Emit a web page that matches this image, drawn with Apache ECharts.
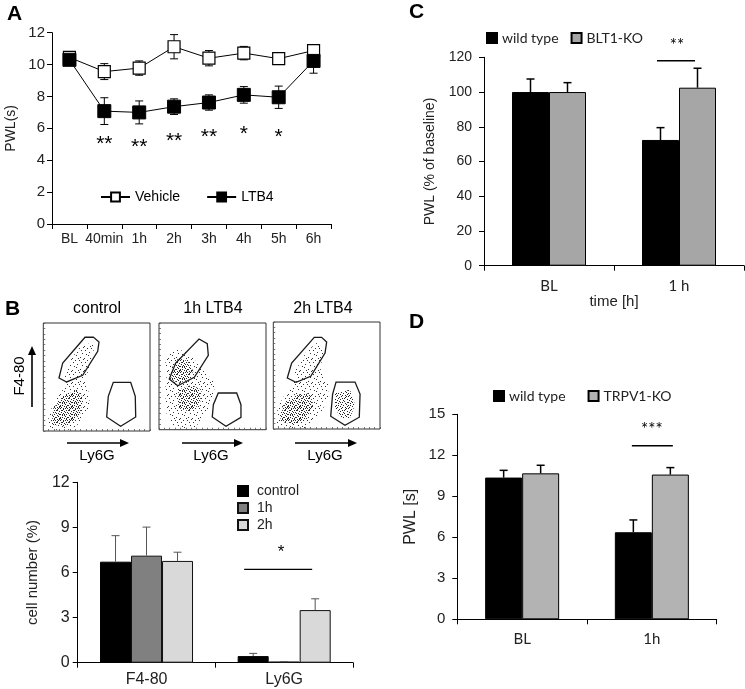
<!DOCTYPE html>
<html><head><meta charset="utf-8">
<script src="https://cdn.jsdelivr.net/npm/echarts@6/dist/echarts.min.js"></script>
<style>html,body{margin:0;padding:0;background:#fff}#c{width:745px;height:689px}</style>
</head><body><div id="c"></div>
<script>
// ---------- Panel A ----------
const timeA = ['BL','40min','1h','2h','3h','4h','5h','6h'];
const vehicle = [10.45, 9.56, 9.78, 11.12, 10.40, 10.72, 10.37, 10.88];
const vehicleErr = [0.20, 0.50, 0.45, 0.76, 0.48, 0.42, 0.33, 0.20];
const ltb4 = [10.30, 7.08, 7.00, 7.36, 7.62, 8.10, 7.95, 10.23];
const ltb4Err = [0.30, 0.84, 0.72, 0.49, 0.48, 0.52, 0.70, 0.77];
const starsA = ['', '**', '**', '**', '**', '*', '*', ''];
const starsAY = [null, 5.0, 4.83, 5.2, 5.45, 5.64, 5.45, null];

// ---------- Panel C ----------
const catC = ['BL', '1 h'];
const wtC = [100, 72.4];
const wtCErr = [7.5, 7.1];
const koC = [100, 102.5];
const koCErr = [5.4, 11.2];

// ---------- Panel B (flow plots, gate outlines and density regions, plot units 0-100) ----------
const flowTitles = ['control', '1h LTB4', '2h LTB4'];
const gateUpper = [
  [[39.1,86.8],[46.9,87.0],[52.2,82.4],[51.0,73.8],[36.9,51.6],[21.9,45.4],[14.7,49.1],[18.2,63.0]],
  [[37.4,85.0],[45.1,80.6],[46.1,69.7],[33.0,49.1],[17.5,41.2],[9.6,47.5],[15.6,62.5]],
  [[38.4,85.7],[45.3,85.7],[50.0,81.3],[48.5,71.0],[35.1,49.3],[21.3,43.6],[13.1,47.7],[17.2,61.7]]
];
const gateLower = [
  [[65.6,45.1],[81.9,45.1],[86.2,32.1],[86.6,13.0],[72.5,4.4],[59.4,13.0],[60.9,32.1]],
  [[55.4,34.4],[72.6,34.4],[76.6,23.4],[76.6,11.5],[62.6,3.2],[49.8,11.9],[50.8,23.4]],
  [[58.8,43.9],[76.6,43.9],[81.3,32.7],[80.6,11.0],[67.2,3.5],[53.8,11.9],[55.6,32.7]]
];
const cloudSparse = [
  [[4.7,1.2],[4.7,15.1],[12.5,30.6],[21.9,42.9],[20.3,50.6],[26.6,67.6],[37.5,81.5],[48.5,79.9],[43.8,61.4],[39.1,46.0],[42.2,36.7],[43.8,24.4],[37.5,12.0],[28.1,1.2]],
  [[5.6,67.2],[15.0,75.0],[27.4,73.5],[36.7,60.9],[52.3,43.8],[50.8,29.7],[43.0,14.1],[33.6,1.6],[15.0,1.6],[7.2,14.1],[5.6,36.0],[7.2,51.5]],
  [[3.2,2.5],[3.8,19.6],[12.5,35.2],[18.8,43.0],[20.3,53.9],[31.3,72.6],[40.6,80.4],[48.5,74.1],[43.8,57.0],[51.5,41.4],[51.5,29.0],[43.8,13.4],[31.3,0.9],[12.5,0.5]]
];
const cloudDense = [
  [[[7.8,5.9],[9.4,21.3],[18.7,32.1],[31.3,38.3],[37.5,30.6],[34.4,15.1],[21.9,4.3]]],
  [[[11.8,57.8],[18.0,67.2],[27.4,64.1],[32.1,54.7],[27.4,46.9],[18.0,43.8],[11.8,46.9]],
   [[18.0,37.5],[30.5,41.8],[39.9,37.5],[38.3,23.4],[27.4,17.2],[18.0,20.3]]],
  [[[6.3,7.2],[9.4,22.7],[21.9,32.1],[34.4,33.6],[37.5,22.7],[31.3,10.3],[18.8,4.0]],
   [[57.8,33.6],[71.9,36.7],[76.6,22.7],[71.9,10.3],[62.5,10.3],[57.8,21.2]]]
];

// ---------- Panel B (bar chart) ----------
const catB = ['F4-80', 'Ly6G'];
const ctrlB = [6.72, 0.44];
const ctrlBErr = [1.73, 0.18];
const h1B = [7.12, 0.07];
const h1BErr = [1.90, 0.0];
const h2B = [6.77, 3.50];
const h2BErr = [0.58, 0.75];

// ---------- Panel D ----------
const catD = ['BL', '1h'];
const wtD = [10.37, 6.37];
const wtDErr = [0.53, 0.90];
const koD = [10.68, 10.59];
const koDErr = [0.59, 0.51];

// significance marks: [category, line value, text value, text]
const sigB = [1, 6.21, 7.32, '*'];
const sigC = [1, 118, 126.8, '**'];
const sigD = [1, 12.7, 13.87, '***'];

const FONT = "'Liberation Sans', Arial, sans-serif";
const CAL = "Lato, 'Liberation Sans', sans-serif";
const TXT = '#222';

// speckle textures for the flow-cytometry density regions
const sparseDots = [[1,2],[7,0],[10,5],[4,7],[0,10],[8,9],[5,4],[11,11],[2,6],[9,2],[6,10],[3,0]];
const denseDots = [[0,0],[3,1],[6,2],[9,1],[1,4],[4,3],[8,5],[11,3],[2,7],[6,6],[10,8],[0,9],[4,10],[7,9],[9,11],
  [1,11],[5,8],[11,6],[7,4],[2,2],[10,0],[5,0],[3,5],[9,7],[0,6],[6,11],[8,2],[11,10],[2,9],[4,6]];
function tile(pts, color) {
  const c = document.createElement('canvas'); c.width = 12; c.height = 12;
  const ctx = c.getContext('2d'); ctx.fillStyle = color;
  pts.forEach(p => ctx.fillRect(p[0], p[1], 1, 1));
  return c;
}
const sparseTile = tile(sparseDots, 'rgba(15,15,15,0.85)');
const denseTile = tile(denseDots, 'rgba(15,15,15,0.9)');

const chart = echarts.init(document.getElementById('c'), null, {renderer: 'canvas'});

function errSym(xi, vals, errs, z) {
  return {
    type: 'custom', xAxisIndex: xi, yAxisIndex: xi, z: z, silent: true,
    data: vals.map((v, i) => [i, v, errs[i]]), encode: {x: 0, y: 1},
    renderItem: (p, api) => {
      const i = api.value(0), v = api.value(1), e = api.value(2);
      const hi = api.coord([i, v + e]), lo = api.coord([i, v - e]);
      const x = hi[0], c = 4, st = {stroke: '#000', lineWidth: 1};
      return {type: 'group', children: [
        {type: 'line', shape: {x1: x, y1: hi[1], x2: x, y2: lo[1]}, style: st},
        {type: 'line', shape: {x1: x - c, y1: hi[1], x2: x + c, y2: hi[1]}, style: st},
        {type: 'line', shape: {x1: x - c, y1: lo[1], x2: x + c, y2: lo[1]}, style: st}
      ]};
    }
  };
}
function errUp(xi, vals, errs, offset, color, lw, cap) {
  return {
    type: 'custom', xAxisIndex: xi, yAxisIndex: xi, z: 5, silent: true,
    data: vals.map((v, i) => [i, v, errs[i]]), encode: {x: 0, y: 1},
    renderItem: (p, api) => {
      const i = api.value(0), v = api.value(1), e = api.value(2);
      const b = api.coord([i, v]), t = api.coord([i, v + e]);
      const x = b[0] + offset, st = {stroke: color, lineWidth: lw};
      return {type: 'group', children: [
        {type: 'line', shape: {x1: x, y1: b[1], x2: x, y2: t[1]}, style: st},
        {type: 'line', shape: {x1: x - cap, y1: t[1], x2: x + cap, y2: t[1]}, style: st}
      ]};
    }
  };
}
function sigSeries(xi, sig, dxL, dxR, dxT, fs, ff) {
  return {
    type: 'custom', xAxisIndex: xi, yAxisIndex: xi, z: 6, silent: true,
    data: [[sig[0], sig[1], sig[2]]], encode: {x: 0, y: 1},
    renderItem: (p, api) => {
      const a = api.coord([api.value(0), api.value(1)]);
      const t = api.coord([api.value(0), api.value(2)]);
      return {type: 'group', children: [
        {type: 'line', shape: {x1: a[0] + dxL, y1: a[1], x2: a[0] + dxR, y2: a[1]}, style: {stroke: '#000', lineWidth: 1.3}},
        {type: 'text', x: t[0] + dxT, y: t[1], style: {text: sig[3], align: 'center', verticalAlign: 'middle', font: fs + 'px ' + ff, fill: '#000'}}
      ]};
    }
  };
}
function flowSeries(k) {
  const polys = [];
  polys.push({pts: cloudSparse[k], fill: {image: sparseTile, repeat: 'repeat'}, stroke: null});
  cloudDense[k].forEach(p => polys.push({pts: p, fill: {image: denseTile, repeat: 'repeat'}, stroke: null}));
  polys.push({pts: gateUpper[k], fill: null, stroke: '#1a1a1a'});
  polys.push({pts: gateLower[k], fill: null, stroke: '#1a1a1a'});
  return {
    type: 'custom', xAxisIndex: 2 + k, yAxisIndex: 2 + k, silent: true,
    data: polys.map((_, i) => [i, 0]), encode: {x: 0, y: 1},
    renderItem: (p, api) => {
      const d = polys[api.value(0)];
      return {type: 'polygon', shape: {points: d.pts.map(pt => api.coord(pt))},
        style: {fill: d.fill || 'none', stroke: d.stroke || 'none', lineWidth: 1.3}};
    }
  };
}

const flowAxis = (gi) => ({
  gridIndex: gi, type: 'value', min: 0, max: 100, interval: 5,
  axisLine: {show: false}, axisLabel: {show: false}, splitLine: {show: false},
  axisTick: {show: true, inside: true, length: 2, lineStyle: {color: '#555', width: 0.8}}
});
const catAxis = (gi, data, font, fs, margin) => ({
  gridIndex: gi, type: 'category', data: data, boundaryGap: true,
  axisLine: {show: true, lineStyle: {color: '#000', width: 1}},
  axisTick: {show: true, length: 5, alignWithLabel: false, lineStyle: {color: '#000'}},
  axisLabel: {fontFamily: font, fontSize: fs, color: TXT, margin: margin, interval: 0},
  splitLine: {show: false}
});
const valAxis = (gi, max, interval, fs, margin, name, nameFs, nameGap) => ({
  gridIndex: gi, type: 'value', min: 0, max: max, interval: interval,
  axisLine: {show: true, lineStyle: {color: '#000', width: 1}},
  axisTick: {show: true, length: 5, lineStyle: {color: '#000'}},
  axisLabel: {fontFamily: FONT, fontSize: fs, color: TXT, margin: margin},
  splitLine: {show: false},
  name: name, nameLocation: 'middle', nameGap: nameGap, nameRotate: 90,
  nameTextStyle: {fontFamily: FONT, fontSize: nameFs, color: TXT}
});

const option = {
  animation: false,
  backgroundColor: '#fff',
  grid: [
    {left: 52, top: 32.7, width: 279, height: 191.3, outerBoundsMode: 'none'},
    {left: 484, top: 57.3, width: 260, height: 208.4, outerBoundsMode: 'none'},
    {left: 43.3, top: 323, width: 106.7, height: 108, show: true, borderColor: '#333', borderWidth: 1, backgroundColor: 'transparent', outerBoundsMode: 'none'},
    {left: 159, top: 323, width: 107, height: 106.7, show: true, borderColor: '#333', borderWidth: 1, backgroundColor: 'transparent', outerBoundsMode: 'none'},
    {left: 273.3, top: 322, width: 106.7, height: 107, show: true, borderColor: '#333', borderWidth: 1, backgroundColor: 'transparent', outerBoundsMode: 'none'},
    {left: 77.7, top: 482.3, width: 275.3, height: 180.4, outerBoundsMode: 'none'},
    {left: 457.3, top: 414.3, width: 259.4, height: 205, outerBoundsMode: 'none'}
  ],
  xAxis: [
    catAxis(0, timeA, FONT, 14, 8),
    Object.assign(catAxis(1, catC, CAL, 15, 13), {name: 'time [h]', nameLocation: 'middle', nameGap: 28,
      nameTextStyle: {fontFamily: FONT, fontSize: 15, color: TXT}}),
    flowAxis(2), flowAxis(3), flowAxis(4),
    catAxis(5, catB, FONT, 16, 9),
    catAxis(6, catD, CAL, 15, 12)
  ],
  yAxis: [
    valAxis(0, 12, 2, 15, 7, 'PWL(s)', 14, 34),
    valAxis(1, 120, 20, 14, 12, 'PWL (% of baseline)', 14, 47),
    flowAxis(2), flowAxis(3), flowAxis(4),
    valAxis(5, 12, 3, 16, 8, 'cell number (%)', 15, 37),
    valAxis(6, 15, 3, 15, 12, 'PWL [s]', 16, 39)
  ],
  legend: [
    {data: ['Vehicle', 'LTB4'], left: 100, top: 190, padding: 0, itemWidth: 29, itemHeight: 11, itemGap: 26,
      selectedMode: false, textStyle: {fontFamily: FONT, fontSize: 14, color: '#000'}},
    {data: ['wild type#C', 'BLT1-KO#C'], left: 486, top: 31, padding: 0, icon: 'rect', itemWidth: 10, itemHeight: 10, itemGap: 12,
      selectedMode: false, formatter: n => n.split('#')[0], textStyle: {fontFamily: CAL, fontSize: 14, color: TXT}},
    {data: ['control', '1h', '2h'], orient: 'vertical', left: 237, top: 484, padding: 0, icon: 'rect', itemWidth: 10, itemHeight: 10, itemGap: 3,
      selectedMode: false, textStyle: {fontFamily: FONT, fontSize: 14, color: TXT, padding: [0, 0, 0, 4]}},
    {data: ['wild type#D', 'TRPV1-KO#D'], left: 493, top: 389, padding: 0, icon: 'rect', itemWidth: 10, itemHeight: 10, itemGap: 22,
      selectedMode: false, formatter: n => n.split('#')[0], textStyle: {fontFamily: CAL, fontSize: 14, color: TXT}}
  ],
  series: [
    // Panel A
    errSym(0, vehicle, vehicleErr, 1),
    errSym(0, ltb4, ltb4Err, 1),
    {name: 'Vehicle', type: 'line', xAxisIndex: 0, yAxisIndex: 0, data: vehicle, z: 3, silent: true,
      symbol: 'rect', symbolSize: 12, lineStyle: {color: '#000', width: 1},
      itemStyle: {color: '#fff', borderColor: '#000', borderWidth: 1.2}},
    {name: 'LTB4', type: 'line', xAxisIndex: 0, yAxisIndex: 0, data: ltb4, z: 4, silent: true,
      symbol: 'rect', symbolSize: 13, lineStyle: {color: '#000', width: 1},
      itemStyle: {color: '#000', borderColor: '#000', borderWidth: 1}},
    {type: 'custom', xAxisIndex: 0, yAxisIndex: 0, silent: true, z: 6,
      data: starsAY.map((y, i) => [i, y]).filter(d => d[1] !== null), encode: {x: 0, y: 1},
      renderItem: (p, api) => {
        const i = api.value(0), c = api.coord([i, api.value(1)]);
        return {type: 'text', x: c[0], y: c[1], style: {text: starsA[i], align: 'center', verticalAlign: 'middle',
          font: '21px ' + FONT, fill: '#000'}};
      }},
    // Panel C
    {name: 'wild type#C', type: 'bar', xAxisIndex: 1, yAxisIndex: 1, data: wtC, barWidth: 37, barGap: '0%', silent: true,
      itemStyle: {color: '#000', borderColor: '#000', borderWidth: 1}},
    {name: 'BLT1-KO#C', type: 'bar', xAxisIndex: 1, yAxisIndex: 1, data: koC, barWidth: 37, barGap: '0%', silent: true,
      itemStyle: {color: '#a6a6a6', borderColor: '#000', borderWidth: 1}},
    errUp(1, wtC, wtCErr, -18.5, '#000', 1.5, 4),
    errUp(1, koC, koCErr, 18.5, '#000', 1.5, 4),
    sigSeries(1, sigC, -22, 16, -2, 17, CAL),
    // Panel B flow plots
    flowSeries(0), flowSeries(1), flowSeries(2),
    // Panel B bars
    {name: 'control', type: 'bar', xAxisIndex: 5, yAxisIndex: 5, data: ctrlB, barWidth: 31, barGap: '0%', silent: true,
      itemStyle: {color: '#000', borderColor: '#000', borderWidth: 1}},
    {name: '1h', type: 'bar', xAxisIndex: 5, yAxisIndex: 5, data: h1B, barWidth: 31, barGap: '0%', silent: true,
      itemStyle: {color: '#808080', borderColor: '#111', borderWidth: 1}},
    {name: '2h', type: 'bar', xAxisIndex: 5, yAxisIndex: 5, data: h2B, barWidth: 31, barGap: '0%', silent: true,
      itemStyle: {color: '#d9d9d9', borderColor: '#111', borderWidth: 1}},
    errUp(5, ctrlB, ctrlBErr, -31, '#555', 1, 4),
    errUp(5, h1B, h1BErr, 0, '#555', 1, 4),
    errUp(5, h2B, h2BErr, 31, '#555', 1, 4),
    sigSeries(5, sigB, -40, 28, -3, 17, FONT),
    // Panel D
    {name: 'wild type#D', type: 'bar', xAxisIndex: 6, yAxisIndex: 6, data: wtD, barWidth: 37, barGap: '0%', silent: true,
      itemStyle: {color: '#000', borderColor: '#000', borderWidth: 1}},
    {name: 'TRPV1-KO#D', type: 'bar', xAxisIndex: 6, yAxisIndex: 6, data: koD, barWidth: 37, barGap: '0%', silent: true,
      itemStyle: {color: '#b3b3b3', borderColor: '#000', borderWidth: 1}},
    errUp(6, wtD, wtDErr, -18.5, '#000', 1.5, 4),
    errUp(6, koD, koDErr, 18.5, '#000', 1.5, 4),
    sigSeries(6, sigD, -20, 21, 0, 17, CAL)
  ],
  graphic: [
    {type: 'text', x: 7, y: 4, style: {text: 'A', font: 'bold 21px ' + FONT, fill: '#000'}},
    {type: 'text', x: 409, y: 2, style: {text: 'C', font: 'bold 21px ' + FONT, fill: '#000'}},
    {type: 'text', x: 5, y: 299, style: {text: 'B', font: 'bold 21px ' + FONT, fill: '#000'}},
    {type: 'text', x: 409, y: 312, style: {text: 'D', font: 'bold 21px ' + FONT, fill: '#000'}},
    {type: 'text', x: 97, y: 309, style: {text: flowTitles[0], align: 'center', verticalAlign: 'middle', font: '16px ' + FONT, fill: '#000'}},
    {type: 'text', x: 213, y: 309, style: {text: flowTitles[1], align: 'center', verticalAlign: 'middle', font: '16px ' + FONT, fill: '#000'}},
    {type: 'text', x: 323, y: 309, style: {text: flowTitles[2], align: 'center', verticalAlign: 'middle', font: '16px ' + FONT, fill: '#000'}},
    {type: 'text', x: 20, y: 376, rotation: Math.PI / 2, style: {text: 'F4-80', align: 'center', verticalAlign: 'middle', font: '15px ' + FONT, fill: '#000'}},
    {type: 'line', shape: {x1: 32, y1: 407, x2: 32, y2: 352}, style: {stroke: '#000', lineWidth: 1.6}},
    {type: 'polygon', shape: {points: [[28, 355], [36, 355], [32, 346]]}, style: {fill: '#000'}},
    {type: 'line', shape: {x1: 67, y1: 443, x2: 122, y2: 443}, style: {stroke: '#000', lineWidth: 1.6}},
    {type: 'polygon', shape: {points: [[120, 439], [120, 447], [129, 443]]}, style: {fill: '#000'}},
    {type: 'line', shape: {x1: 182, y1: 443, x2: 236, y2: 443}, style: {stroke: '#000', lineWidth: 1.6}},
    {type: 'polygon', shape: {points: [[234, 439], [234, 447], [243, 443]]}, style: {fill: '#000'}},
    {type: 'line', shape: {x1: 295, y1: 443, x2: 350, y2: 443}, style: {stroke: '#000', lineWidth: 1.6}},
    {type: 'polygon', shape: {points: [[348, 439], [348, 447], [357, 443]]}, style: {fill: '#000'}},
    {type: 'text', x: 97, y: 456, style: {text: 'Ly6G', align: 'center', verticalAlign: 'middle', font: '15px ' + FONT, fill: '#000'}},
    {type: 'text', x: 211, y: 456, style: {text: 'Ly6G', align: 'center', verticalAlign: 'middle', font: '15px ' + FONT, fill: '#000'}},
    {type: 'text', x: 325, y: 456, style: {text: 'Ly6G', align: 'center', verticalAlign: 'middle', font: '15px ' + FONT, fill: '#000'}}
  ]
};
chart.setOption(option);
</script>
</body></html>
